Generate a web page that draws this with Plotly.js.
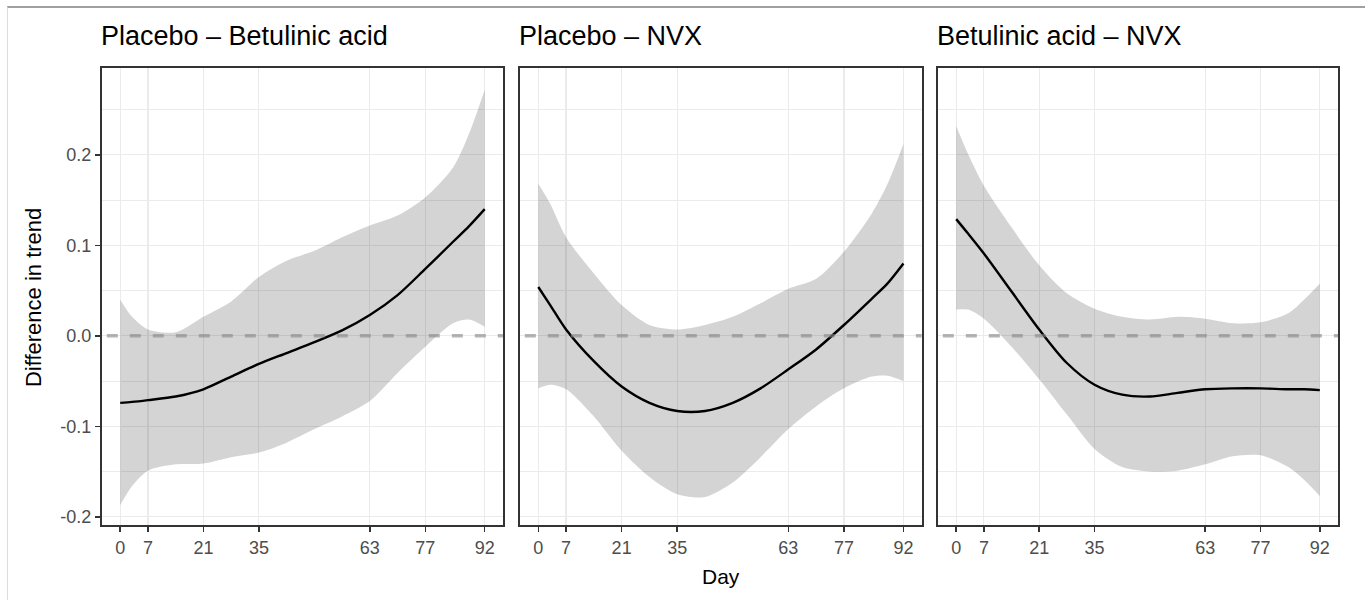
<!DOCTYPE html>
<html>
<head>
<meta charset="utf-8">
<script src="https://cdn.plot.ly/plotly-3.0.1.min.js"></script>
<style>
  html, body { margin: 0; padding: 0; background: #fff; }
  #chart { position: absolute; left: 0; top: 0; width: 1365px; height: 600px; }
  #frame { position: absolute; left: 7px; top: 6px; right: 0; bottom: 0;
           border-top: 2px solid #a0a0a0; border-left: 1px solid #dcdcdc; pointer-events: none; }
</style>
</head>
<body>
<div id="chart"></div>
<div id="frame"></div>
<script>
// ---- Data ----
const panelTitles = ["Placebo \u2013 Betulinic acid", "Placebo \u2013 NVX", "Betulinic acid \u2013 NVX"];
const days = [0, 3, 7, 14, 21, 28, 35, 42, 49, 56, 63, 70, 77, 84, 88, 92];

// Panel 1: Placebo – Betulinic acid
const p1Mean  = [-0.074, -0.073, -0.071, -0.067, -0.059, -0.045, -0.031, -0.019, -0.007, 0.006, 0.023, 0.045, 0.074, 0.104, 0.121, 0.140];
const p1Upper = [0.040, 0.021, 0.007, 0.004, 0.021, 0.038, 0.065, 0.083, 0.094, 0.109, 0.122, 0.133, 0.153, 0.186, 0.223, 0.272];
const p1Lower = [-0.187, -0.166, -0.149, -0.142, -0.141, -0.134, -0.129, -0.118, -0.103, -0.089, -0.072, -0.041, -0.012, 0.014, 0.018, 0.010];

// Panel 2: Placebo – NVX
const p2Mean  = [0.054, 0.034, 0.007, -0.028, -0.056, -0.074, -0.083, -0.083, -0.074, -0.058, -0.037, -0.015, 0.012, 0.041, 0.058, 0.080];
const p2Upper = [0.168, 0.146, 0.109, 0.069, 0.034, 0.012, 0.007, 0.012, 0.021, 0.036, 0.052, 0.063, 0.093, 0.135, 0.168, 0.212];
const p2Lower = [-0.058, -0.054, -0.059, -0.089, -0.127, -0.156, -0.175, -0.178, -0.162, -0.134, -0.103, -0.078, -0.058, -0.045, -0.044, -0.050];

// Panel 3: Betulinic acid – NVX
const p3Mean  = [0.129, 0.113, 0.091, 0.049, 0.007, -0.030, -0.054, -0.065, -0.067, -0.063, -0.059, -0.058, -0.058, -0.059, -0.059, -0.060];
const p3Upper = [0.232, 0.201, 0.166, 0.120, 0.078, 0.047, 0.030, 0.021, 0.018, 0.021, 0.019, 0.014, 0.015, 0.025, 0.040, 0.058];
const p3Lower = [0.029, 0.029, 0.019, -0.012, -0.048, -0.087, -0.125, -0.145, -0.150, -0.149, -0.142, -0.133, -0.132, -0.145, -0.159, -0.177];

const xTicks = [0, 7, 21, 35, 63, 77, 92];
const yTicks = [-0.2, -0.1, 0.0, 0.1, 0.2];
const yTickText = ["-0.2", "-0.1", "0.0", "0.1", "0.2"];
const refLineY = 0;
const xTitle = "Day";
const yTitle = "Difference in trend";

// ---- Build ----
const panels = [
  {mean: p1Mean, up: p1Upper, lo: p1Lower},
  {mean: p2Mean, up: p2Upper, lo: p2Lower},
  {mean: p3Mean, up: p3Upper, lo: p3Lower}
];
const domains = [[0, 0.3244], [0.3382, 0.6632], [0.6764, 1]];
const ribbonFill = "rgba(0,0,0,0.17)";
const FONT = "Liberation Sans, Arial, sans-serif";
const traces = [];
panels.forEach((p, i) => {
  const xa = i === 0 ? "x" : "x" + (i + 1);
  const ya = i === 0 ? "y" : "y" + (i + 1);
  traces.push({x: days, y: p.lo, xaxis: xa, yaxis: ya, type: "scatter", mode: "lines",
    line: {width: 0, shape: "spline", smoothing: 0.8}, hoverinfo: "skip", showlegend: false});
  traces.push({x: days, y: p.up, xaxis: xa, yaxis: ya, type: "scatter", mode: "lines",
    fill: "tonexty", fillcolor: ribbonFill,
    line: {width: 0, shape: "spline", smoothing: 0.8}, hoverinfo: "skip", showlegend: false});
  traces.push({x: days, y: p.mean, xaxis: xa, yaxis: ya, type: "scatter", mode: "lines",
    line: {color: "#000", width: 2.4, shape: "spline", smoothing: 0.8}, showlegend: false});
});

const tickFont = {family: FONT, size: 18, color: "#4d4d4d"};
const layout = {
  width: 1365, height: 600,
  margin: {l: 102, r: 27, t: 68, b: 75},
  paper_bgcolor: "#fff", plot_bgcolor: "#fff",
  font: {family: FONT},
  showlegend: false,
  shapes: [],
  annotations: []
};
domains.forEach((d, i) => {
  const sfx = i === 0 ? "" : String(i + 1);
  layout["xaxis" + sfx] = {
    domain: d, range: [-4.6, 96.6], anchor: "y" + sfx,
    tickmode: "array", tickvals: xTicks, ticktext: xTicks.map(String),
    ticks: "outside", ticklen: 5, tickwidth: 1.5, tickcolor: "#333",
    showline: true, mirror: true, linecolor: "#333", linewidth: 2,
    showgrid: true, gridcolor: "#ebebeb", gridwidth: 1.2, zeroline: false,
    tickfont: tickFont, fixedrange: true
  };
  layout["yaxis" + sfx] = {
    domain: [0, 1], range: [-0.209, 0.296], anchor: "x" + sfx,
    tickmode: "array", tickvals: yTicks, ticktext: yTickText,
    ticks: i === 0 ? "outside" : "", ticklen: 5, tickwidth: 1.5, tickcolor: "#333",
    showticklabels: i === 0,
    showline: true, mirror: true, linecolor: "#333", linewidth: 2,
    showgrid: true, gridcolor: "#ebebeb", gridwidth: 1.2, zeroline: false,
    minor: {dtick: 0.05, tick0: 0, showgrid: true, gridcolor: "#ebebeb", gridwidth: 1, ticks: ""},
    tickfont: tickFont, fixedrange: true
  };
  layout.shapes.push({type: "line", xref: "x" + sfx + " domain", yref: "y" + sfx,
    x0: 0.012, x1: 1, y0: refLineY, y1: refLineY, layer: "above",
    line: {color: "rgba(135,135,135,0.62)", width: 3.5, dash: "11px,12px"}});
  layout.annotations.push({text: panelTitles[i], xref: "paper", yref: "paper",
    x: d[0], y: 1, xanchor: "left", yanchor: "bottom", xshift: -3, yshift: 15, showarrow: false,
    font: {family: FONT, size: 27, color: "#000"}});
});
layout.annotations.push({text: xTitle, xref: "paper", yref: "paper", x: 0.5006, y: -0.1116,
  xanchor: "center", yanchor: "middle", showarrow: false,
  font: {family: FONT, size: 21, color: "#000"}});
layout.annotations.push({text: yTitle, xref: "paper", yref: "paper", x: -0.0558, y: 0.4967,
  xanchor: "center", yanchor: "middle", textangle: -90, showarrow: false,
  font: {family: FONT, size: 22, color: "#000"}});

Plotly.newPlot("chart", traces, layout, {displayModeBar: false, staticPlot: true});
</script>
</body>
</html>
